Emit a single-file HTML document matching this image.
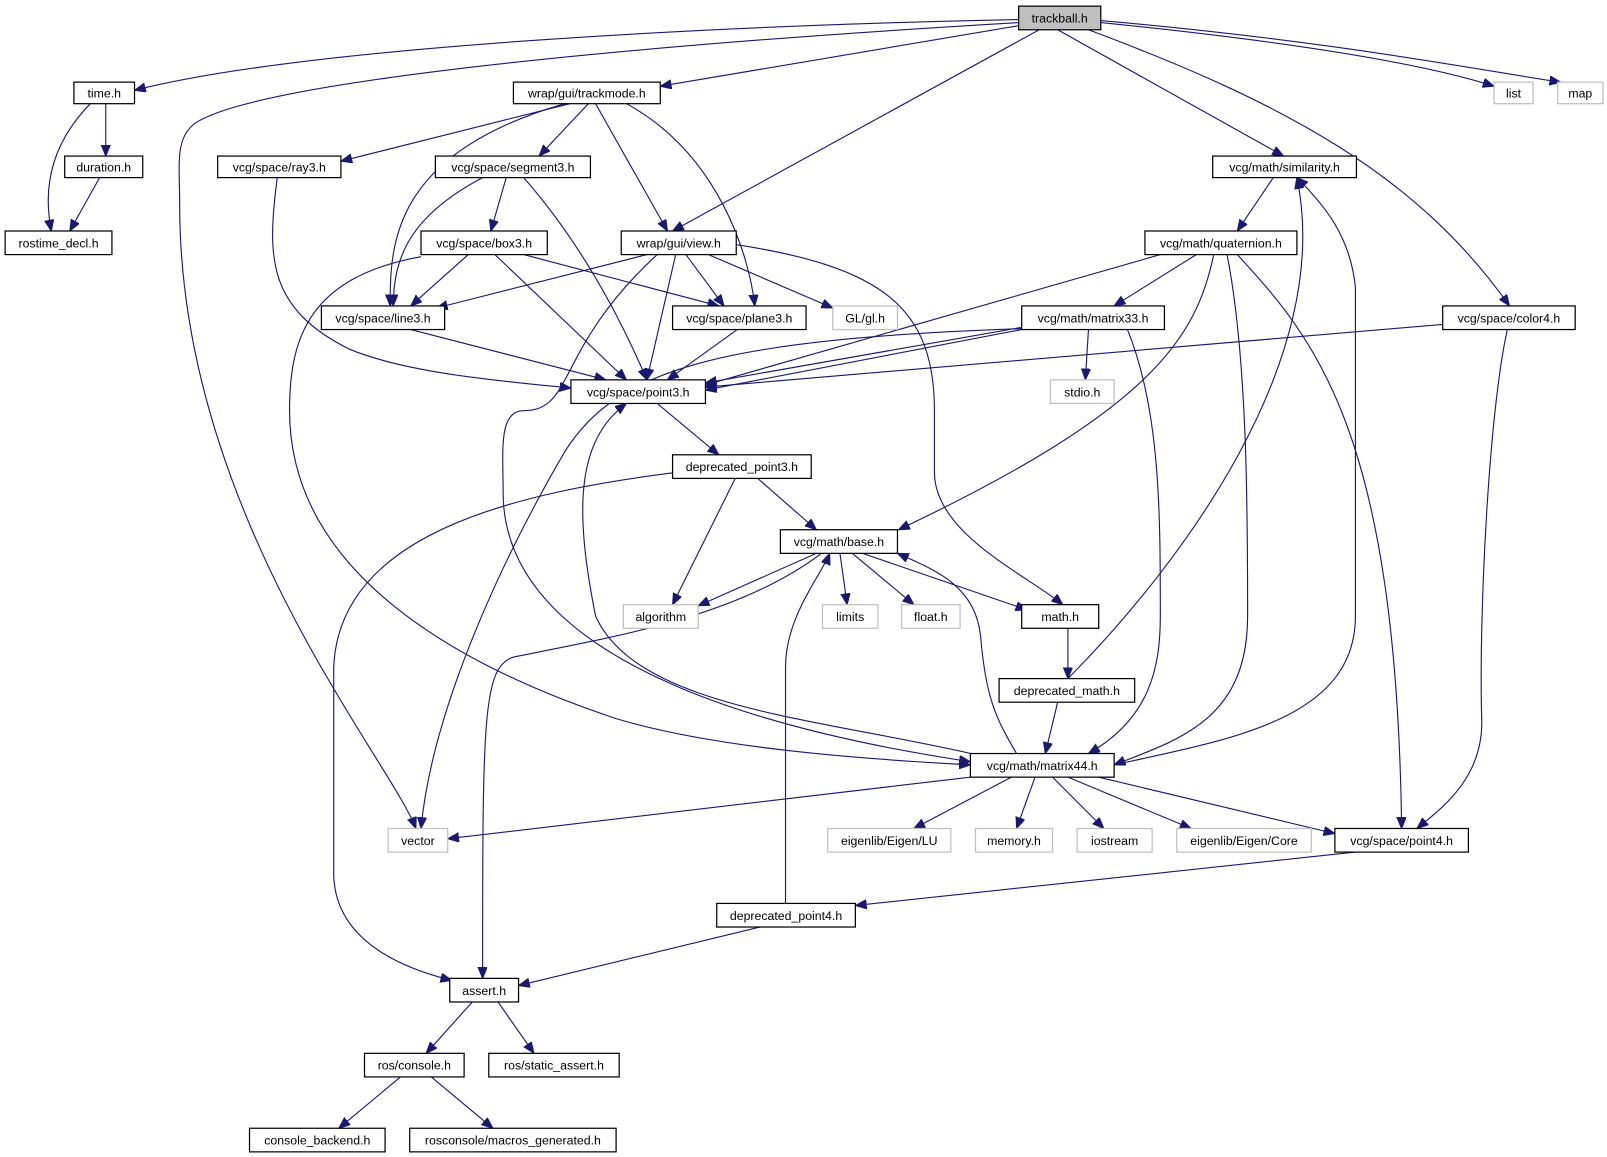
<!DOCTYPE html>
<html><head><meta charset="utf-8"><style>
html,body{margin:0;padding:0;background:#fff;}
svg{display:block;}
text{font-family:"Liberation Sans",sans-serif;font-size:12px;text-anchor:middle;fill:#000;}
.e{fill:none;stroke:#191970;stroke-width:1.1;marker-end:url(#a);}
.n rect{fill:#fff;stroke:#000;stroke-width:1.2;}
.g rect{fill:#fff;stroke:#bfbfbf;stroke-width:1.2;}
</style></head><body>
<svg width="1607" height="1157" viewBox="0 0 1565 1127" preserveAspectRatio="none" xmlns="http://www.w3.org/2000/svg">
<defs><marker id="a" markerWidth="12" markerHeight="10" refX="11" refY="4.5" orient="auto" markerUnits="userSpaceOnUse"><path d="M0,0 L11,4.5 L0,9 z" fill="#191970" stroke="#191970"/></marker></defs>
<g>
<path class="e" d="M992,19 C700,25 300,45 131,88"/>
<path class="e" d="M992,22 C600,45 250,80 190,120 C170,135 175,160 175,200 C175,500 380,740 405,807"/>
<path class="e" d="M992,25 L643,84"/>
<path class="e" d="M1012,29 L655,225"/>
<path class="e" d="M1030,29 L1250,152"/>
<path class="e" d="M1060,29 C1250,100 1380,170 1470,298"/>
<path class="e" d="M1072,22 C1250,40 1380,60 1455,84"/>
<path class="e" d="M1072,20 C1300,40 1450,70 1520,80"/>
<path class="e" d="M103,101 L103,152"/>
<path class="e" d="M88,101 C40,150 45,200 50,225"/>
<path class="e" d="M97,173 L68,225"/>
<path class="e" d="M555,101 L332,157"/>
<path class="e" d="M573,101 L525,152"/>
<path class="e" d="M550,101 C380,150 380,240 380,298"/>
<path class="e" d="M580,101 L650,225"/>
<path class="e" d="M610,101 C700,150 730,250 735,298"/>
<path class="e" d="M270,173 C260,250 260,300 340,340 C400,365 500,372 556,378"/>
<path class="e" d="M493,173 L478,225"/>
<path class="e" d="M470,173 C400,210 383,250 383,298"/>
<path class="e" d="M510,173 C560,230 600,300 630,370"/>
<path class="e" d="M456,248 L400,298"/>
<path class="e" d="M482,248 L610,370"/>
<path class="e" d="M510,248 L700,298"/>
<path class="e" d="M410,250 C300,270 282,330 282,400 C282,560 450,650 600,700 C700,730 850,740 945,745"/>
<path class="e" d="M630,248 L425,300"/>
<path class="e" d="M658,248 L630,370"/>
<path class="e" d="M668,248 L705,298"/>
<path class="e" d="M690,248 L811,300"/>
<path class="e" d="M715,238 C860,260 910,300 910,400 L910,460 C910,520 1000,560 1035,589"/>
<path class="e" d="M640,248 C540,340 560,400 510,400 C485,400 490,440 490,480 C490,660 800,720 945,742"/>
<path class="e" d="M1000,320 C700,330 600,360 550,440 C480,560 420,700 410,807"/>
<path class="e" d="M1130,248 L687,375"/>
<path class="e" d="M1165,248 L1085,298"/>
<path class="e" d="M1182,248 C1165,330 1120,400 875,516"/>
<path class="e" d="M1195,248 C1215,350 1215,500 1215,600 C1215,700 1150,720 1085,745"/>
<path class="e" d="M1205,248 C1280,330 1360,420 1365,807"/>
<path class="e" d="M1240,173 L1205,225"/>
<path class="e" d="M1085,745 C1200,720 1320,700 1320,600 L1320,280 C1315,230 1290,200 1263,173"/>
<path class="e" d="M1040,661 C1150,550 1300,350 1263,173"/>
<path class="e" d="M1405,316 L687,377"/>
<path class="e" d="M1468,321 C1450,400 1440,600 1443,700 C1445,760 1400,790 1380,807"/>
<path class="e" d="M1000,318 L687,373"/>
<path class="e" d="M995,321 L687,380"/>
<path class="e" d="M1060,321 L1057,370"/>
<path class="e" d="M1098,321 C1130,400 1130,500 1130,600 C1130,650 1120,700 1060,734"/>
<path class="e" d="M400,321 L590,370"/>
<path class="e" d="M718,321 L650,370"/>
<path class="e" d="M640,393 L700,443"/>
<path class="e" d="M738,466 L795,516"/>
<path class="e" d="M716,466 L655,589"/>
<path class="e" d="M660,460 C500,480 330,520 325,650 L325,850 C325,920 400,945 440,955"/>
<path class="e" d="M795,539 L680,590"/>
<path class="e" d="M818,539 L825,589"/>
<path class="e" d="M830,539 L890,589"/>
<path class="e" d="M840,539 L1000,594"/>
<path class="e" d="M800,539 C720,600 600,620 500,640 C470,650 470,700 470,953"/>
<path class="e" d="M765,880 C765,800 765,720 765,650 C765,600 800,560 808,539"/>
<path class="e" d="M990,734 C970,700 960,680 955,620 C950,570 910,555 874,539"/>
<path class="e" d="M950,735 C800,700 620,690 580,600 C560,500 560,430 610,393"/>
<path class="e" d="M1040,612 L1040,661"/>
<path class="e" d="M1030,684 L1018,734"/>
<path class="e" d="M945,757 L436,817"/>
<path class="e" d="M985,757 L890,807"/>
<path class="e" d="M1008,757 L990,807"/>
<path class="e" d="M1025,757 L1075,807"/>
<path class="e" d="M1040,757 L1160,807"/>
<path class="e" d="M1070,757 L1300,812"/>
<path class="e" d="M1320,830 L833,882"/>
<path class="e" d="M740,903 L505,960"/>
<path class="e" d="M460,976 L415,1026"/>
<path class="e" d="M485,976 L520,1026"/>
<path class="e" d="M390,1049 L330,1099"/>
<path class="e" d="M420,1049 L480,1099"/>
</g>
<g class="n"><rect x="992" y="6" width="80" height="23" style="fill:#bfbfbf"/><text x="1032" y="22">trackball.h</text></g>
<g class="n"><rect x="72" y="80" width="59" height="21"/><text x="101.5" y="95">time.h</text></g>
<g class="n"><rect x="500" y="80" width="143" height="21"/><text x="571.5" y="95">wrap/gui/trackmode.h</text></g>
<g class="g"><rect x="1455" y="80" width="38" height="21"/><text x="1474" y="95">list</text></g>
<g class="g"><rect x="1517" y="80" width="44" height="21"/><text x="1539" y="95">map</text></g>
<g class="n"><rect x="63" y="152" width="76" height="21"/><text x="101" y="167">duration.h</text></g>
<g class="n"><rect x="212" y="152" width="120" height="21"/><text x="272" y="167">vcg/space/ray3.h</text></g>
<g class="n"><rect x="424" y="152" width="151" height="21"/><text x="499.5" y="167">vcg/space/segment3.h</text></g>
<g class="n"><rect x="1181" y="152" width="140" height="21"/><text x="1251" y="167">vcg/math/similarity.h</text></g>
<g class="n"><rect x="5" y="225" width="104" height="23"/><text x="57" y="241">rostime_decl.h</text></g>
<g class="n"><rect x="410" y="225" width="123" height="23"/><text x="471.5" y="241">vcg/space/box3.h</text></g>
<g class="n"><rect x="605" y="225" width="112" height="23"/><text x="661" y="241">wrap/gui/view.h</text></g>
<g class="n"><rect x="1115" y="225" width="148" height="23"/><text x="1189" y="241">vcg/math/quaternion.h</text></g>
<g class="n"><rect x="313" y="298" width="120" height="23"/><text x="373" y="314">vcg/space/line3.h</text></g>
<g class="n"><rect x="655" y="298" width="130" height="23"/><text x="720" y="314">vcg/space/plane3.h</text></g>
<g class="g"><rect x="811" y="298" width="63" height="23"/><text x="842.5" y="314">GL/gl.h</text></g>
<g class="n"><rect x="995" y="298" width="139" height="23"/><text x="1064.5" y="314">vcg/math/matrix33.h</text></g>
<g class="n"><rect x="1405" y="298" width="129" height="23"/><text x="1469.5" y="314">vcg/space/color4.h</text></g>
<g class="n"><rect x="556" y="370" width="131" height="23"/><text x="621.5" y="386">vcg/space/point3.h</text></g>
<g class="g"><rect x="1023" y="370" width="62" height="23"/><text x="1054" y="386">stdio.h</text></g>
<g class="n"><rect x="655" y="443" width="135" height="23"/><text x="722.5" y="459">deprecated_point3.h</text></g>
<g class="n"><rect x="760" y="516" width="114" height="23"/><text x="817" y="532">vcg/math/base.h</text></g>
<g class="g"><rect x="607" y="589" width="73" height="23"/><text x="643.5" y="605">algorithm</text></g>
<g class="g"><rect x="801" y="589" width="54" height="23"/><text x="828" y="605">limits</text></g>
<g class="g"><rect x="878" y="589" width="57" height="23"/><text x="906.5" y="605">float.h</text></g>
<g class="n"><rect x="995" y="589" width="75" height="23"/><text x="1032.5" y="605">math.h</text></g>
<g class="n"><rect x="973" y="661" width="132" height="23"/><text x="1039" y="677">deprecated_math.h</text></g>
<g class="n"><rect x="945" y="734" width="140" height="23"/><text x="1015" y="750">vcg/math/matrix44.h</text></g>
<g class="g"><rect x="378" y="807" width="58" height="23"/><text x="407" y="823">vector</text></g>
<g class="g"><rect x="806" y="807" width="120" height="23"/><text x="866" y="823">eigenlib/Eigen/LU</text></g>
<g class="g"><rect x="950" y="807" width="75" height="23"/><text x="987.5" y="823">memory.h</text></g>
<g class="g"><rect x="1049" y="807" width="73" height="23"/><text x="1085.5" y="823">iostream</text></g>
<g class="g"><rect x="1146" y="807" width="131" height="23"/><text x="1211.5" y="823">eigenlib/Eigen/Core</text></g>
<g class="n"><rect x="1300" y="807" width="130" height="23"/><text x="1365" y="823">vcg/space/point4.h</text></g>
<g class="n"><rect x="698" y="880" width="135" height="23"/><text x="765.5" y="896">deprecated_point4.h</text></g>
<g class="n"><rect x="438" y="953" width="67" height="23"/><text x="471.5" y="969">assert.h</text></g>
<g class="n"><rect x="355" y="1026" width="97" height="23"/><text x="403.5" y="1042">ros/console.h</text></g>
<g class="n"><rect x="476" y="1026" width="127" height="23"/><text x="539.5" y="1042">ros/static_assert.h</text></g>
<g class="n"><rect x="243" y="1099" width="132" height="23"/><text x="309" y="1115">console_backend.h</text></g>
<g class="n"><rect x="399" y="1099" width="201" height="23"/><text x="499.5" y="1115">rosconsole/macros_generated.h</text></g>
</svg>
</body></html>
